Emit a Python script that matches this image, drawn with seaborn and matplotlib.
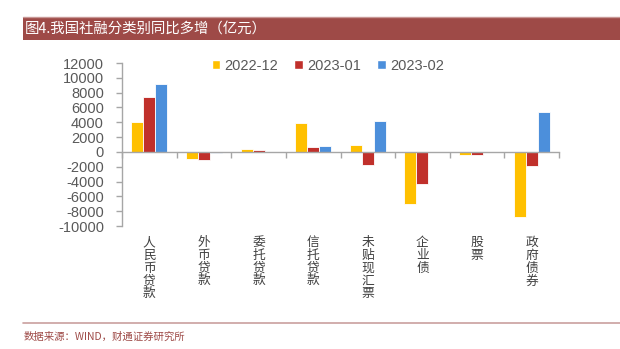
import matplotlib
matplotlib.use("Agg")
import matplotlib.pyplot as plt
import matplotlib.transforms as mtransforms
from matplotlib.patches import Rectangle
from matplotlib.lines import Line2D
import seaborn as sns
import pandas as pd

categories = ["人民币贷款", "外币贷款", "委托贷款", "信托贷款", "未贴现汇票", "企业债", "股票", "政府债券"]
series = ["2022-12", "2023-01", "2023-02"]
v_2022_12 = [4100, -1000, 350, 3850, 900, -7050, -350, -8850]
v_2023_01 = [7400, -1150, 200, 650, -1750, -4350, -450, -1900]
v_2023_02 = [9200, -200, 30, 850, 4200, 0, 0, 5450]
yticks = list(range(-10000, 12001, 2000))
colors = ["#FFC000", "#C0302B", "#4C8FDB"]

rows = []
for s, vals in zip(series, [v_2022_12, v_2023_01, v_2023_02]):
    for c, v in zip(categories, vals):
        rows.append({"cat": c, "series": s, "value": v})
df = pd.DataFrame(rows)

sns.set_theme(style="white")
plt.rcParams['font.family'] = ['Liberation Sans', 'Noto Sans CJK SC', 'DejaVu Sans']

W, H = 620, 349
fig = plt.figure(figsize=(W / 100, H / 100), dpi=100)
ax = fig.add_axes([122 / W, 1 - 226 / H, (559 - 122) / W, (226 - 63) / H])

sns.barplot(data=df, x="cat", y="value", hue="series", palette=colors, ax=ax,
            width=0.66, edgecolor="white", linewidth=0.6, legend=False, saturation=1)

ax.set_ylim(-10000, 12000)
ax.set_xlim(-0.5, len(categories) - 0.5)
ax.set_yticks(yticks)
ax.set_yticklabels([str(t) for t in yticks], fontsize=10.5, color="#595959")
ax.set_xlabel("")
ax.set_ylabel("")
for s in ["top", "right"]:
    ax.spines[s].set_visible(False)
ax.spines["bottom"].set_position(("data", 0))
ax.spines["bottom"].set_color("#A6A6A6")
ax.spines["left"].set_color("#A6A6A6")
ax.spines["bottom"].set_linewidth(1.0)
ax.spines["left"].set_linewidth(1.0)
ax.set_xticks([i - 0.5 for i in range(len(categories) + 1)])
ax.set_xticklabels([])
ax.tick_params(axis="x", direction="out", length=4, color="#A6A6A6", width=1.0, bottom=True)
ax.tick_params(axis="y", direction="out", length=4, color="#A6A6A6", width=1.0, left=True, pad=9)

trans = mtransforms.blended_transform_factory(ax.transData, fig.transFigure)
for i, c in enumerate(categories):
    ax.text(i, 1 - 236 / H, "\n".join(c), transform=trans, ha="center", va="top",
            fontsize=9.2, color="#404040", linespacing=0.98,
            family=["Noto Sans CJK SC", "DejaVu Sans"])

# legend
handles = [Rectangle((0, 0), 1, 1, facecolor=col, edgecolor="white") for col in colors]
fig.legend(handles, series, loc="center", bbox_to_anchor=(328 / W, 1 - 66 / H), ncol=3,
           frameon=False, fontsize=10.5, handlelength=0.6, handleheight=0.6,
           handletextpad=0.3, columnspacing=1.1, labelcolor="#595959")

# title bar
fig.patches.append(Rectangle((23 / W, 1 - 40 / H), 1 - 23 / W, 23 / H, transform=fig.transFigure,
                             facecolor="#9E4A47", edgecolor="none"))
fig.lines.append(Line2D([23 / W, 1], [1 - 17 / H, 1 - 17 / H], transform=fig.transFigure,
                        color="#C89896", linewidth=1))
fig.text(25 / W, 1 - 28.5 / H, "图4.我国社融分类别同比多增（亿元）", color="white", fontsize=10.4,
         va="center", ha="left", family=["Noto Sans CJK SC", "DejaVu Sans"])

# footer
fig.lines.append(Line2D([23 / W, 1], [1 - 323 / H, 1 - 323 / H], transform=fig.transFigure,
                        color="#C9A09E", linewidth=1.2))
fig.text(24 / W, 1 - 337 / H, "数据来源：WIND，财通证券研究所", color="#9E4A47", fontsize=7.5,
         va="center", ha="left", family=["Noto Sans CJK SC", "DejaVu Sans"])

fig.savefig("out.png", dpi=100)
